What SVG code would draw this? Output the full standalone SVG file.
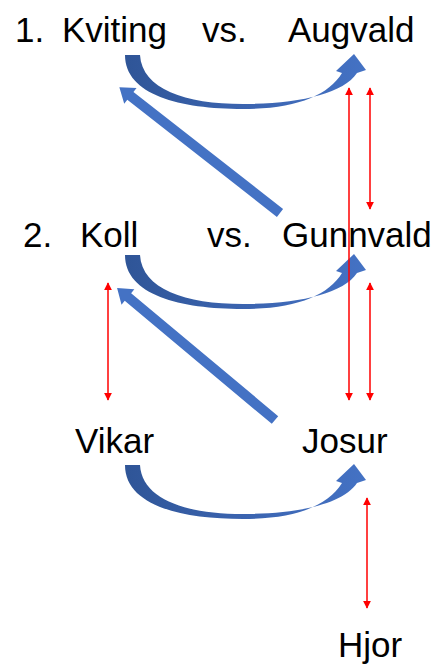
<svg xmlns="http://www.w3.org/2000/svg" width="438" height="664" viewBox="0 0 438 664">
  <style>
    .lbl { font-family: "Liberation Sans", Arial, sans-serif; font-size: 35px; fill: #000; }
    .blk { fill: #4472C4; }
    .red { stroke: #FF0000; stroke-width: 1.5; fill: none; marker-start: url(#rh); marker-end: url(#rh); }
  </style>
  <defs>
    <linearGradient id="bend" x1="125" y1="0" x2="366" y2="0" gradientUnits="userSpaceOnUse">
      <stop offset="0" stop-color="#2F5597"/>
      <stop offset="0.5" stop-color="#3B64B0"/>
      <stop offset="1" stop-color="#4472C4"/>
    </linearGradient>
    <!-- curved "up" arrow, tail at (125..140, 55) -->
    <path id="curve" fill="url(#bend)" d="M125,55 C125,95 180,109 243,109 C295,109 328,96 342,73 L336,71 L354,54 L366,70 L357,73 C343,94 298,104 243,104 C185,104 142,89 140,55 Z"/>
    <!-- straight block arrow pointing along +x, length 204 -->
    <polygon id="block" points="0,-5 190,-5 190,-10 204,0 190,10 190,5 0,5"/>
    <marker id="rh" viewBox="0 0 10 10" refX="9" refY="5" markerWidth="8" markerHeight="8" markerUnits="userSpaceOnUse" orient="auto-start-reverse">
      <path d="M0,0 L10,5 L0,10 Z" fill="#FF0000"/>
    </marker>
  </defs>

  <g id="connectors">
    <use href="#curve"/>
    <use href="#curve" transform="translate(0,200)"/>
    <use href="#curve" transform="translate(0,410)"/>
    <use href="#block" class="blk" transform="translate(280,213) rotate(218.05)"/>
    <use href="#block" class="blk" transform="translate(275,420) rotate(219.9) scale(1.009,1)"/>
    <line class="red" x1="349" y1="88" x2="349" y2="400"/>
    <line class="red" x1="370" y1="88" x2="370" y2="209"/>
    <line class="red" x1="370" y1="283" x2="370" y2="400"/>
    <line class="red" x1="108" y1="283" x2="108" y2="400"/>
    <line class="red" x1="367" y1="498" x2="367" y2="608"/>
  </g>

  <g id="num1"><text class="lbl" x="15" y="42">1.</text></g>
  <g id="kviting"><text class="lbl" x="62" y="42">Kviting</text></g>
  <g id="vs1"><text class="lbl" x="202" y="42">vs.</text></g>
  <g id="augvald"><text class="lbl" x="288" y="42">Augvald</text></g>

  <g id="num2"><text class="lbl" x="23" y="247">2.</text></g>
  <g id="koll"><text class="lbl" x="80" y="247">Koll</text></g>
  <g id="vs2"><text class="lbl" x="207" y="247">vs.</text></g>
  <g id="gunnvald"><text class="lbl" x="282" y="247">Gunnvald</text></g>

  <g id="vikar"><text class="lbl" x="75" y="453">Vikar</text></g>
  <g id="josur"><text class="lbl" x="302" y="453">Josur</text></g>
  <g id="hjor"><text class="lbl" x="338" y="657">Hjor</text></g>
</svg>
